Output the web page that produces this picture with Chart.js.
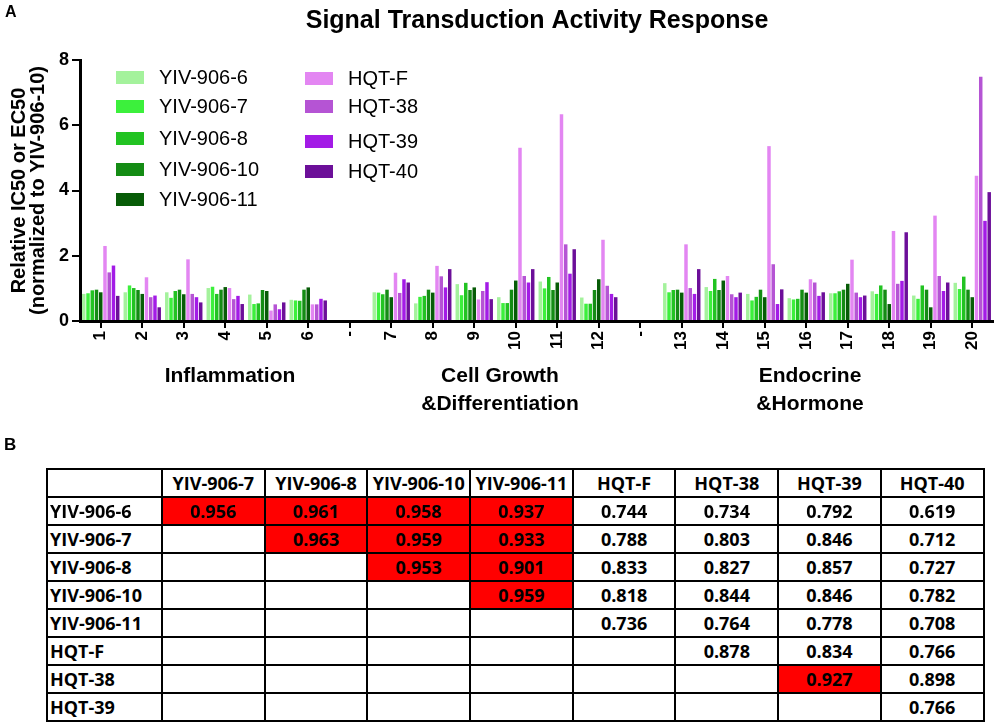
<!DOCTYPE html>
<html>
<head>
<meta charset="utf-8">
<script src="https://cdn.jsdelivr.net/npm/chart.js@4.4.1/dist/chart.umd.min.js"></script>
<style>
  body { margin:0; background:#fff; width:1000px; height:723px; overflow:hidden; position:relative; }
  #chartBox { position:absolute; left:0; top:0; width:1000px; height:440px; }
  #lblB { position:absolute; left:4px; top:435px; font:bold 17px "Liberation Sans", Arial, sans-serif; color:#000; }
  #corr { position:absolute; left:46px; top:468px; border-collapse:collapse; table-layout:fixed;
          font-family:"Open Sans", sans-serif; font-weight:bold; font-size:18px; color:#000; }
  #corr td { border:2px solid #000; padding:0; text-align:center; vertical-align:middle; height:26px; line-height:24px; overflow:hidden; white-space:nowrap; }
  #corr td.rh { text-align:left; padding-left:2px; }
  #corr td.hi { background:#ff0000; }
</style>
</head>
<body>
<div id="chartBox"><canvas id="c"></canvas></div>
<div id="lblB">B</div>
<table id="corr"></table>
<script>
// ---------- data ----------
const chartTitle = "Signal Transduction Activity Response";
const categories = ["1","2","3","4","5","6","-","7","8","9","10","11","12","-","13","14","15","16","17","18","19","20"];
const seriesNames = ["YIV-906-6","YIV-906-7","YIV-906-8","YIV-906-10","YIV-906-11","HQT-F","HQT-38","HQT-39","HQT-40"];
const yiv6  = [0.83,0.88,0.88,1.01,0.81,0.65,null,0.88,0.54,1.13,0.73,1.21,0.72,null,1.16,1.04,0.83,0.70,0.85,0.91,0.78,1.17];
const yiv7  = [0.85,1.09,0.71,1.05,0.52,0.63,null,0.87,0.74,0.79,0.55,1.00,0.53,null,0.88,0.92,0.63,0.66,0.85,0.83,0.68,0.98];
const yiv8  = [0.94,1.01,0.92,0.83,0.54,0.62,null,0.82,0.77,1.17,0.55,1.35,0.53,null,0.95,1.29,0.74,0.68,0.91,1.09,1.09,1.36];
const yiv10 = [0.96,0.95,0.96,0.96,0.95,0.96,null,0.96,0.96,0.95,0.96,0.95,0.95,null,0.96,0.95,0.96,0.96,0.96,0.96,0.96,0.96];
const yiv11 = [0.88,0.83,0.82,1.04,0.92,1.03,null,0.73,0.87,1.03,1.24,1.18,1.28,null,0.87,1.24,0.73,0.87,1.14,0.52,0.42,0.73];
const hqtF  = [2.30,1.34,1.89,1.01,0.32,0.51,null,1.48,1.69,0.66,5.31,6.34,2.49,null,2.35,1.38,5.36,1.28,1.88,2.76,3.23,4.45];
const hqt38 = [1.49,0.73,0.83,0.67,0.51,0.51,null,0.86,1.37,0.92,1.38,2.35,1.08,null,1.01,0.82,1.74,1.18,0.87,1.14,1.38,7.49];
const hqt39 = [1.70,0.78,0.73,0.77,0.36,0.68,null,1.28,1.03,1.19,1.18,1.45,0.83,null,0.83,0.73,0.52,0.77,0.73,1.23,0.92,3.07];
const hqt40 = [0.77,0.42,0.57,0.52,0.57,0.63,null,1.18,1.59,0.67,1.59,2.20,0.73,null,1.59,0.87,0.97,0.88,0.78,2.72,1.18,3.95];
const yTicks = [0,2,4,6,8];
const yTitle = ["Relative IC50 or EC50","(normalized to YIV-906-10)"];
const groupLabels = [["Inflammation"],["Cell Growth","&Differentiation"],["Endocrine","&Hormone"]];

const tableCols = ["YIV-906-7","YIV-906-8","YIV-906-10","YIV-906-11","HQT-F","HQT-38","HQT-39","HQT-40"];
const tableRows = ["YIV-906-6","YIV-906-7","YIV-906-8","YIV-906-10","YIV-906-11","HQT-F","HQT-38","HQT-39"];
const r1 = [0.956,0.961,0.958,0.937,0.744,0.734,0.792,0.619];
const r2 = [null,0.963,0.959,0.933,0.788,0.803,0.846,0.712];
const r3 = [null,null,0.953,0.901,0.833,0.827,0.857,0.727];
const r4 = [null,null,null,0.959,0.818,0.844,0.846,0.782];
const r5 = [null,null,null,null,0.736,0.764,0.778,0.708];
const r6 = [null,null,null,null,null,0.878,0.834,0.766];
const r7 = [null,null,null,null,null,null,0.927,0.898];
const r8 = [null,null,null,null,null,null,null,0.766];
const highThreshold = 0.9;

// ---------- styles ----------
const seriesData = [yiv6,yiv7,yiv8,yiv10,yiv11,hqtF,hqt38,hqt39,hqt40];
const colors = ["#a4f29c","#3cf03c","#22c322","#148c14","#075c07","#e386f2","#b554d4","#a31be6","#6c0f99"];
const FONT = '"Liberation Sans", Arial, sans-serif';

// ---------- table ----------
(function(){
  const t = document.getElementById('corr');
  const cg = document.createElement('colgroup');
  const c0 = document.createElement('col'); c0.style.width = '115px'; cg.appendChild(c0);
  tableCols.forEach(()=>{ const c=document.createElement('col'); c.style.width='102.7px'; cg.appendChild(c); });
  t.appendChild(cg);
  const hr = document.createElement('tr');
  hr.appendChild(document.createElement('td'));
  tableCols.forEach(n=>{ const td=document.createElement('td'); td.textContent=n; hr.appendChild(td); });
  t.appendChild(hr);
  [r1,r2,r3,r4,r5,r6,r7,r8].forEach((row,i)=>{
    const tr = document.createElement('tr');
    const th = document.createElement('td'); th.className='rh'; th.textContent=tableRows[i]; tr.appendChild(th);
    row.forEach(v=>{
      const td=document.createElement('td');
      if (v!==null){ td.textContent=v.toFixed(3); if (v>highThreshold) td.className='hi'; }
      tr.appendChild(td);
    });
    t.appendChild(tr);
  });
})();

// ---------- overlay plugin ----------
const overlay = {
  id:'overlay',
  afterDraw(chart){
    const ctx = chart.ctx;
    ctx.save();
    ctx.fillStyle = '#000';
    ctx.textBaseline = 'alphabetic';
    ctx.textAlign = 'center';
    ctx.font = 'bold 25px ' + FONT;
    ctx.fillText(chartTitle, 537, 28);
    ctx.textAlign = 'left';
    ctx.font = 'bold 16px ' + FONT;
    ctx.fillText('A', 5, 17);
    // group labels
    const gx = [230, 500, 810];
    ctx.textAlign = 'center';
    ctx.textBaseline = 'middle';
    ctx.font = 'bold 21px ' + FONT;
    groupLabels.forEach((g,i)=>g.forEach((line,j)=>ctx.fillText(line, gx[i], 376 + j*28)));
    // legend
    ctx.font = '20px ' + FONT;
    ctx.textAlign = 'left';
    const rowsA = [77,106,138,169,199], rowsB = [78,106,141,171];
    chart.data.datasets.forEach((ds,i)=>{
      const col = i < 5 ? 0 : 1;
      const y = col === 0 ? rowsA[i] : rowsB[i-5];
      const x = col === 0 ? 116 : 305;
      ctx.fillStyle = ds.backgroundColor;
      ctx.fillRect(x, y-6, 28, 13);
      ctx.fillStyle = '#000';
      ctx.fillText(ds.label, x + 43, y + 1);
    });
    ctx.restore();
  }
};

new Chart(document.getElementById('c'), {
  type:'bar',
  data:{
    labels: categories,
    datasets: seriesNames.map((n,i)=>({
      label:n, data:seriesData[i], backgroundColor:colors[i], borderWidth:0,
      barPercentage:0.82, categoryPercentage:0.92
    }))
  },
  options:{
    responsive:true, maintainAspectRatio:false, animation:false,
    layout:{ padding:{ top:60, right:7, left:0, bottom:0 } },
    plugins:{ legend:{display:false}, title:{display:false}, tooltip:{enabled:false} },
    scales:{
      x:{
        grid:{ display:true, drawOnChartArea:false, offset:false, color:'#000', lineWidth:2, tickLength:7 },
        border:{ display:true, color:'#000', width:3 },
        ticks:{ color:'#000', font:{family:FONT, size:17, weight:'bold'}, maxRotation:90, minRotation:90, autoSkip:false, padding:3 },
        afterFit(s){ s.height = 119; }
      },
      y:{
        min:0, max:8,
        afterBuildTicks(s){ s.ticks = yTicks.map(v=>({value:v})); },
        grid:{ display:true, drawOnChartArea:false, color:'#000', lineWidth:2, tickLength:8 },
        border:{ display:true, color:'#000', width:3 },
        ticks:{ color:'#000', font:{family:FONT, size:18, weight:'bold'}, padding:3 },
        title:{ display:true, text:yTitle, color:'#000', font:{family:FONT, size:20, weight:'bold', lineHeight:0.95}, padding:{top:10, bottom:0} },
        afterFit(s){ s.width = 80; }
      }
    }
  },
  plugins:[overlay]
});
</script>
</body>
</html>
